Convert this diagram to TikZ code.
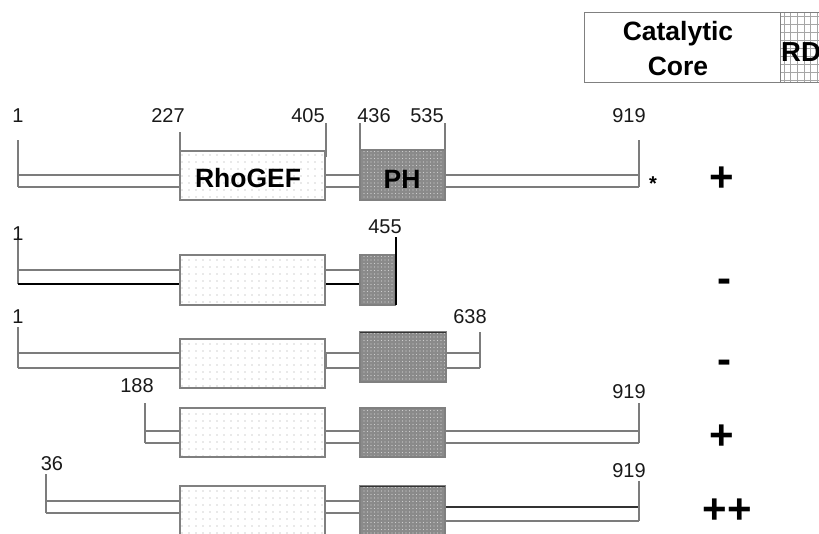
\documentclass[tikz,border=0pt]{standalone}
\usepackage{fontspec}
\setmainfont{Liberation Sans}
\usetikzlibrary{patterns.meta}
\definecolor{linegray}{HTML}{7C7C7C}
\definecolor{boxgray}{HTML}{808080}
\definecolor{dotgray}{HTML}{A0A0A0}
\definecolor{phgray}{HTML}{8A8A8A}
\definecolor{phdot}{HTML}{CFCFCF}
\definecolor{darkline}{HTML}{333333}
\begin{document}
\begin{tikzpicture}[x=1pt,y=-1pt,
  ln/.style={draw=linegray, line width=1.1pt},
  blk/.style={draw=black, line width=1.2pt},
  thk/.style={draw=darkline, line width=2.2pt},
  gefbox/.style={draw=boxgray, line width=1.1pt, preaction={fill=white},
     pattern={Dots[distance=7pt,radius=0.6pt]}, pattern color=dotgray},
  phbox/.style={draw=boxgray, line width=1.1pt, preaction={fill=phgray},
     pattern={Dots[distance=3.5pt,radius=0.6pt]}, pattern color=phdot},
  num/.style={font=\fontsize{20}{22}\selectfont, text=black!90, inner sep=0pt, anchor=base},
  dom/.style={font=\fontsize{26.5}{28}\bfseries\selectfont, inner sep=0pt, anchor=base},
  act/.style={font=\fontsize{42}{46}\bfseries\selectfont, inner sep=0pt, anchor=base, text depth=0pt}
]
\useasboundingbox (0,0) rectangle (819,533);

% ---- legend box ----
\draw[boxgray, line width=1pt, fill=white] (584,12) rectangle (780,82);
\begin{scope}
  \clip (780,12) rectangle (819,82);
  \fill[white] (780,12) rectangle (830,82);
  \draw[gray!70, line width=0.6pt, xstep=6.7pt, ystep=8pt] (780,12) grid (830,82);
  \draw[boxgray, line width=1pt] (780,12) rectangle (840,82);
\end{scope}
\node[dom] (cat1) at (678,40) {Catalytic};
\node[dom] (cat2) at (678,75) {Core};
\begin{scope}
  \clip (780,12) rectangle (819,82);
  \node[dom, anchor=base west] (rd) at (781,61) {\fontsize{27.5}{28}\bfseries\selectfont RD};
\end{scope}

% ---- row 1 : full length ----
\draw[ln] (18,140) -- (18,187);
\draw[ln] (18,175) -- (180,175);
\draw[ln] (18,187) -- (180,187);
\draw[ln] (180,132) -- (180,151);
\draw[ln] (326,123) -- (326,157);
\draw[ln] (325,175) -- (360,175);
\draw[ln] (325,187) -- (360,187);
\draw[ln] (360,123) -- (360,150);
\draw[ln] (445,123) -- (445,150);
\draw[ln] (445,175) -- (639,175);
\draw[ln] (445,187) -- (639,187);
\draw[ln] (639,140) -- (639,187);
\draw[gefbox] (180,151) rectangle (325,200);
\draw[phbox] (360,150) rectangle (445,200);
\node[dom] (gef) at (248,187) {RhoGEF};
\node[dom] (ph) at (402,188) {PH};
\node[num] (n1a) at (18,122) {1};
\node[num] (n227) at (168,122) {227};
\node[num] (n405) at (308,122) {405};
\node[num] (n436) at (374,122) {436};
\node[num] (n535) at (427,122) {535};
\node[num] (n919a) at (629,122) {919};
\node[font=\fontsize{20}{22}\bfseries\selectfont, inner sep=0pt, anchor=base] (star) at (653,190) {*};
\node[act] (a1) at (722,191) {+};

% ---- row 2 : 1-455 ----
\draw[ln] (18,237) -- (18,284);
\draw[ln] (18,270) -- (180,270);
\draw[blk] (18,284) -- (180,284);
\draw[ln] (325,270) -- (360,270);
\draw[blk] (325,284) -- (360,284);
\draw[gefbox] (180,255) rectangle (325,305);
\draw[phbox] (360,255) rectangle (395,305);
\draw[blk] (396,237) -- (396,305);
\node[num] (n1b) at (18,240) {1};
\node[num] (n455) at (385,233) {455};
\node[act] (a2) at (724,292) {-};

% ---- row 3 : 1-638 ----
\draw[ln] (18,327) -- (18,368);
\draw[ln] (18,353) -- (180,353);
\draw[ln] (18,368) -- (180,368);
\draw[ln] (325,353) -- (360,353);
\draw[ln] (325,368) -- (360,368);
\draw[ln] (446,353) -- (480,353);
\draw[ln] (446,368) -- (480,368);
\draw[ln] (480,332) -- (480,368);
\draw[gefbox] (180,339) rectangle (325,388);
\draw[line width=1.6pt, boxgray] (326,353) -- (326,368);
\draw[phbox] (360,332) rectangle (446,382);
\draw[darkline, line width=1pt] (360,332) -- (446,332);
\node[num] (n1c) at (18,323) {1};
\node[num] (n638) at (470,323) {638};
\node[act] (a3) at (724,373) {-};

% ---- row 4 : 188-919 ----
\draw[ln] (145,403) -- (145,443);
\draw[ln] (145,431) -- (180,431);
\draw[ln] (145,443) -- (180,443);
\draw[ln] (325,431) -- (360,431);
\draw[ln] (325,443) -- (360,443);
\draw[ln] (445,431) -- (639,431);
\draw[ln] (445,443) -- (639,443);
\draw[ln] (639,403) -- (639,443);
\draw[gefbox] (180,408) rectangle (325,457);
\draw[phbox] (360,408) rectangle (445,457);
\node[num] (n188) at (137,392) {188};
\node[num] (n919b) at (629,398) {919};
\node[act] (a4) at (722,449) {+};

% ---- row 5 : 36-919 ----
\draw[ln] (46,474) -- (46,513);
\draw[ln] (46,501) -- (180,501);
\draw[ln] (46,513) -- (180,513);
\draw[ln] (325,501) -- (360,501);
\draw[ln] (325,513) -- (360,513);
\draw[thk] (445,507) -- (639,507);
\draw[ln] (445,521) -- (639,521);
\draw[ln] (639,481) -- (639,521);
\draw[gefbox] (180,486) rectangle (325,540);
\draw[phbox] (360,486) rectangle (445,540);
\draw[darkline, line width=1pt] (360,486) -- (445,486);
\node[num] (n36) at (52,470) {36};
\node[num] (n919c) at (629,477) {919};
\node[act] (a5) at (727,523) {++};
\end{tikzpicture}
\end{document}
